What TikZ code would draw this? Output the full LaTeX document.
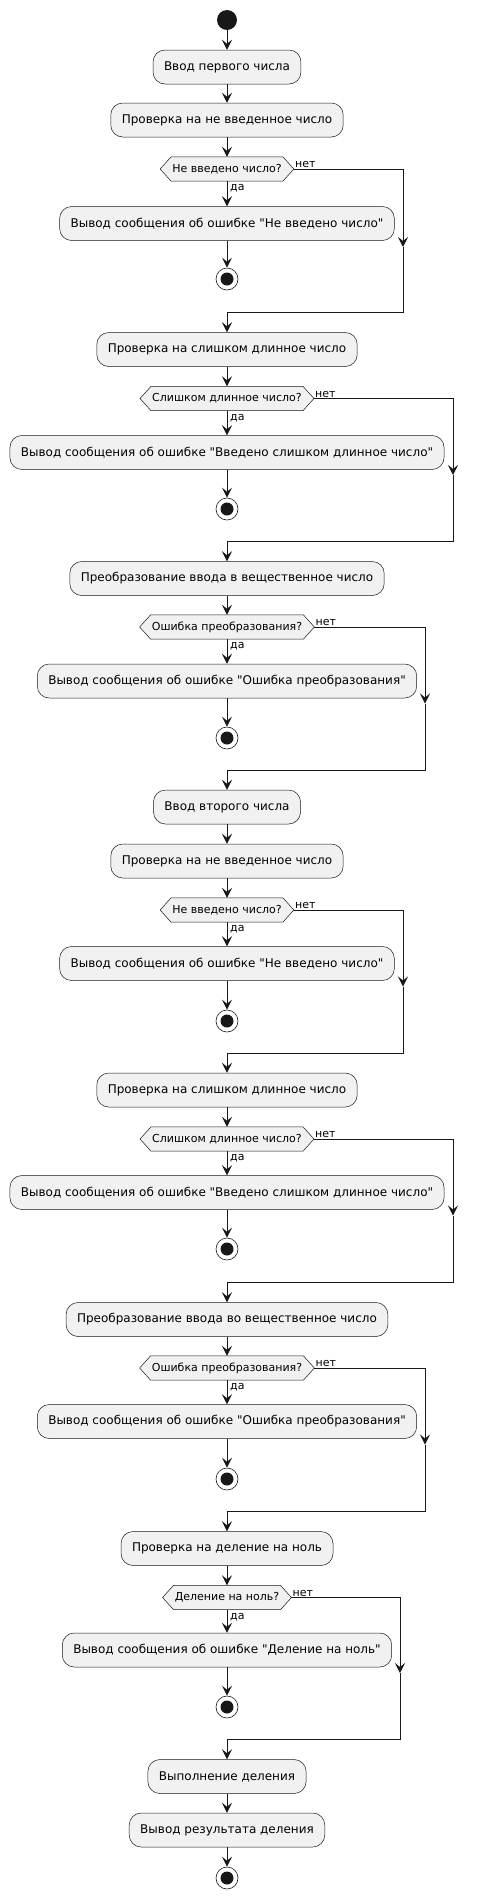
\documentclass[tikz,border=0pt]{standalone}
\usepackage{fontspec}
\setmainfont{DejaVu Sans}[Ligatures=TeXOff]
\usetikzlibrary{arrows.meta,backgrounds}
\definecolor{lc}{HTML}{181818}
\definecolor{fc}{HTML}{F1F1F1}
\tikzset{
  akcija/.style={draw=lc, line width=0.5pt, fill=fc, rounded corners=12pt, minimum height=34pt, inner xsep=11pt, font=\fontsize{12}{14}\selectfont},
  uslov/.style={inner xsep=12pt, inner ysep=0pt, minimum height=24pt, font=\fontsize{11}{13}\selectfont},
  oznaka/.style={inner sep=1pt, font=\fontsize{11}{13}\selectfont},
  pocetak/.style={circle, fill=lc, minimum size=20pt, inner sep=0pt},
  kraj/.style={circle, draw=lc, line width=0.6pt, minimum size=22pt, inner sep=0pt, path picture={\fill[lc] (path picture bounding box.center) circle (6.5pt);}},
  veza/.style={draw=lc, line width=1pt, -{Stealth[length=10pt,width=10pt,inset=4pt]}},
  linija/.style={draw=lc, line width=1pt}
}
\newcommand{\uslovcvor}[3]{%
  \node[uslov] (#1) at (227,#2) {#3};
  \begin{scope}[on background layer]
    \draw[draw=lc, line width=0.5pt, fill=fc] (#1.west) -- ([xshift=11pt]#1.north west) -- ([xshift=-11pt]#1.north east) -- (#1.east) -- ([xshift=-11pt]#1.south east) -- ([xshift=11pt]#1.south west) -- cycle;
  \end{scope}}
\begin{document}
\begin{tikzpicture}[x=1pt,y=-1pt]
\useasboundingbox (0,0) rectangle (478,1899);

\node[pocetak] (start) at (227,20) {};
\node[akcija] (a1) at (227,67) {Ввод первого числа};
\node[akcija] (a2) at (227,120) {Проверка на не введенное число};
\uslovcvor{u1}{169}{Не введено число?}
\node[akcija] (g1) at (227,223.5) {Вывод сообщения об ошибке "Не введено число"};
\node[kraj] (k1) at (227,279) {};
\coordinate (j1) at (403,247);
\coordinate (m1) at (227,312);

\node[akcija] (a3) at (227,349.5) {Проверка на слишком длинное число};
\uslovcvor{u2}{398.5}{Слишком длинное число?}
\node[akcija] (g2) at (227,452.5) {Вывод сообщения об ошибке "Введено слишком длинное число"};
\node[kraj] (k2) at (227,509) {};
\coordinate (j2) at (453,475);
\coordinate (m2) at (227,541);

\node[akcija] (a4) at (227,578.5) {Преобразование ввода в вещественное число};
\uslovcvor{u3}{627}{Ошибка преобразования?}
\node[akcija] (g3) at (227,681) {Вывод сообщения об ошибке "Ошибка преобразования"};
\node[kraj] (k3) at (227,738) {};
\coordinate (j3) at (425,703.5);
\coordinate (m3) at (227,770);

\node[akcija] (a5) at (227,807) {Ввод второго числа};
\node[akcija] (a6) at (227,861) {Проверка на не введенное число};
\uslovcvor{u4}{910}{Не введено число?}
\node[akcija] (g4) at (227,963.5) {Вывод сообщения об ошибке "Не введено число"};
\node[kraj] (k4) at (227,1021) {};
\coordinate (j4) at (403,986.5);
\coordinate (m4) at (227,1053);

\node[akcija] (a7) at (227,1090) {Проверка на слишком длинное число};
\uslovcvor{u5}{1139}{Слишком длинное число?}
\node[akcija] (g5) at (227,1192.5) {Вывод сообщения об ошибке "Введено слишком длинное число"};
\node[kraj] (k5) at (227,1249) {};
\coordinate (j5) at (453,1215.5);
\coordinate (m5) at (227,1282);

\node[akcija] (a8) at (227,1319.5) {Преобразование ввода во вещественное число};
\uslovcvor{u6}{1368}{Ошибка преобразования?}
\node[akcija] (g6) at (227,1421.5) {Вывод сообщения об ошибке "Ошибка преобразования"};
\node[kraj] (k6) at (227,1479) {};
\coordinate (j6) at (425,1444.5);
\coordinate (m6) at (227,1511);

\node[akcija] (a9) at (227,1548.5) {Проверка на деление на ноль};
\uslovcvor{u7}{1597.5}{Деление на ноль?}
\node[akcija] (g7) at (227,1650) {Вывод сообщения об ошибке "Деление на ноль"};
\node[kraj] (k7) at (227,1707) {};
\coordinate (j7) at (400,1673);
\coordinate (m7) at (227,1739);

\node[akcija] (a10) at (227,1776.5) {Выполнение деления};
\node[akcija] (a11) at (227,1830) {Вывод результата деления};
\node[kraj] (kraj) at (227,1878) {};

\draw[veza] (start) -- (a1);
\draw[veza] (a1) -- (a2);
\draw[veza] (a2) -- (u1);
\draw[veza] (u1) -- (g1);
\draw[veza] (g1) -- (k1);
\draw[veza] (u1.east) -| (j1);
\draw[linija] (j1) |- (m1);
\draw[veza] (m1) -- (a3);
\node[oznaka, anchor=north west] at ([xshift=2pt,yshift=-2pt]u1.south) {да};
\node[oznaka, anchor=south west] at (u1.east) {нет};

\draw[veza] (a3) -- (u2);
\draw[veza] (u2) -- (g2);
\draw[veza] (g2) -- (k2);
\draw[veza] (u2.east) -| (j2);
\draw[linija] (j2) |- (m2);
\draw[veza] (m2) -- (a4);
\node[oznaka, anchor=north west] at ([xshift=2pt,yshift=-2pt]u2.south) {да};
\node[oznaka, anchor=south west] at (u2.east) {нет};

\draw[veza] (a4) -- (u3);
\draw[veza] (u3) -- (g3);
\draw[veza] (g3) -- (k3);
\draw[veza] (u3.east) -| (j3);
\draw[linija] (j3) |- (m3);
\draw[veza] (m3) -- (a5);
\node[oznaka, anchor=north west] at ([xshift=2pt,yshift=-2pt]u3.south) {да};
\node[oznaka, anchor=south west] at (u3.east) {нет};

\draw[veza] (a5) -- (a6);
\draw[veza] (a6) -- (u4);
\draw[veza] (u4) -- (g4);
\draw[veza] (g4) -- (k4);
\draw[veza] (u4.east) -| (j4);
\draw[linija] (j4) |- (m4);
\draw[veza] (m4) -- (a7);
\node[oznaka, anchor=north west] at ([xshift=2pt,yshift=-2pt]u4.south) {да};
\node[oznaka, anchor=south west] at (u4.east) {нет};

\draw[veza] (a7) -- (u5);
\draw[veza] (u5) -- (g5);
\draw[veza] (g5) -- (k5);
\draw[veza] (u5.east) -| (j5);
\draw[linija] (j5) |- (m5);
\draw[veza] (m5) -- (a8);
\node[oznaka, anchor=north west] at ([xshift=2pt,yshift=-2pt]u5.south) {да};
\node[oznaka, anchor=south west] at (u5.east) {нет};

\draw[veza] (a8) -- (u6);
\draw[veza] (u6) -- (g6);
\draw[veza] (g6) -- (k6);
\draw[veza] (u6.east) -| (j6);
\draw[linija] (j6) |- (m6);
\draw[veza] (m6) -- (a9);
\node[oznaka, anchor=north west] at ([xshift=2pt,yshift=-2pt]u6.south) {да};
\node[oznaka, anchor=south west] at (u6.east) {нет};

\draw[veza] (a9) -- (u7);
\draw[veza] (u7) -- (g7);
\draw[veza] (g7) -- (k7);
\draw[veza] (u7.east) -| (j7);
\draw[linija] (j7) |- (m7);
\draw[veza] (m7) -- (a10);
\node[oznaka, anchor=north west] at ([xshift=2pt,yshift=-2pt]u7.south) {да};
\node[oznaka, anchor=south west] at (u7.east) {нет};

\draw[veza] (a10) -- (a11);
\draw[veza] (a11) -- (kraj);
\end{tikzpicture}
\end{document}
